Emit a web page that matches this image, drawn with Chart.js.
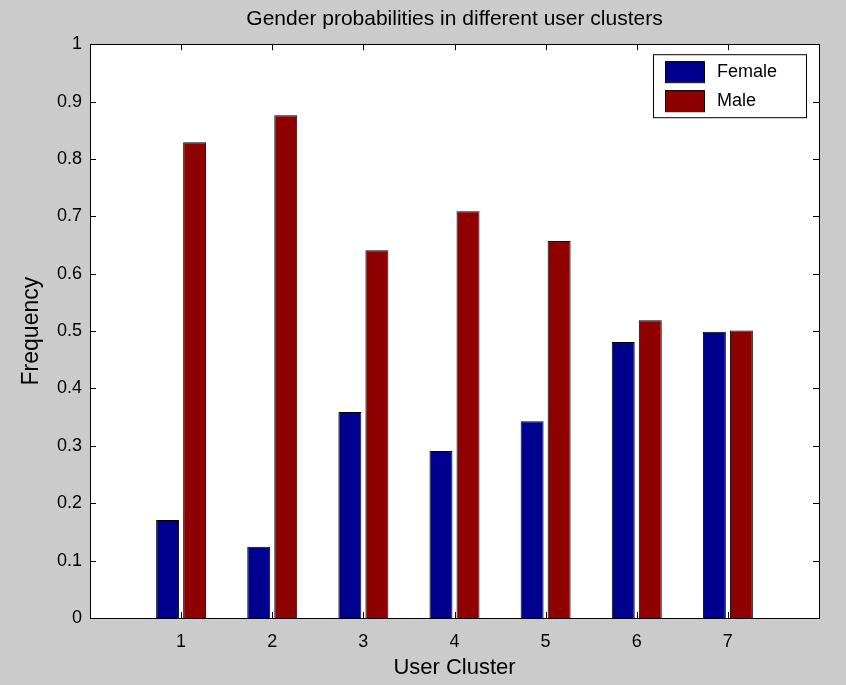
<!DOCTYPE html>
<html>
<head>
<meta charset="utf-8">
<script src="https://cdn.jsdelivr.net/npm/chart.js@4"></script>
<style>
  html, body { margin: 0; padding: 0; background: #cbcbcb; }
  #wrap { width: 846px; height: 685px; }
</style>
</head>
<body>
<div id="wrap"><canvas id="genderChart"></canvas></div>
<script>
// values
const clusters = ['1', '2', '3', '4', '5', '6', '7'];
const female = [0.171, 0.124, 0.359, 0.291, 0.343, 0.481, 0.499];
const male = [0.829, 0.876, 0.641, 0.709, 0.657, 0.519, 0.501];
const yTicks = [0, 0.1, 0.2, 0.3, 0.4, 0.5, 0.6, 0.7, 0.8, 0.9, 1];

// axis runs 0..8, empty slots at both ends
const labels = ['', ...clusters, ''];

const FONT = "'Liberation Sans', Arial, sans-serif";

// gray figure, white axes, box and inward ticks like matlab
const matlabAxes = {
    id: 'matlabAxes',
    beforeDraw(chart) {
        const { ctx, chartArea: a } = chart;
        ctx.save();
        ctx.fillStyle = '#cbcbcb';
        ctx.fillRect(0, 0, chart.width, chart.height);
        ctx.fillStyle = '#ffffff';
        ctx.fillRect(a.left, a.top, a.right - a.left, a.bottom - a.top);
        ctx.restore();
    },
    afterDatasetsDraw(chart) {
        const { ctx, chartArea: a, scales } = chart;
        ctx.save();
        ctx.strokeStyle = '#000';
        ctx.lineWidth = 1;
        ctx.beginPath();
        clusters.forEach((c, i) => {
            const x = Math.round(scales.x.getPixelForValue(i + 1)) + 0.5;
            ctx.moveTo(x, a.bottom); ctx.lineTo(x, a.bottom - 6);
            ctx.moveTo(x, a.top); ctx.lineTo(x, a.top + 6);
        });
        yTicks.forEach(v => {
            const y = Math.round(scales.y.getPixelForValue(v)) + 0.5;
            ctx.moveTo(a.left, y); ctx.lineTo(a.left + 6, y);
            ctx.moveTo(a.right, y); ctx.lineTo(a.right - 6, y);
        });
        ctx.stroke();
        ctx.strokeRect(Math.round(a.left) + 0.5, Math.round(a.top) + 0.5,
            Math.round(a.right - a.left), Math.round(a.bottom - a.top));

        // legend box in the top right corner
        const bx = a.right - 166, by = a.top + 10, bw = 153, bh = 63;
        ctx.fillStyle = '#fff';
        ctx.fillRect(bx, by, bw, bh);
        ctx.strokeRect(bx + 0.5, by + 0.5, bw, bh);
        ctx.font = '18px ' + FONT;
        ctx.textBaseline = 'middle';
        chart.data.datasets.forEach((ds, i) => {
            const sy = by + 7 + i * 29;
            ctx.fillStyle = ds.backgroundColor;
            ctx.fillRect(bx + 12, sy, 39, 21);
            ctx.strokeRect(bx + 12.5, sy + 0.5, 39, 21);
            ctx.fillStyle = '#000';
            ctx.fillText(ds.label, bx + 64, sy + 11);
        });
        ctx.restore();
    }
};

new Chart(document.getElementById('genderChart'), {
    type: 'bar',
    data: {
        labels: labels,
        datasets: [
            {
                label: 'Female',
                data: [null, ...female, null],
                backgroundColor: '#00008f',
                borderColor: '#000',
                borderWidth: 1,
            },
            {
                label: 'Male',
                data: [null, ...male, null],
                backgroundColor: '#8f0000',
                borderColor: '#000',
                borderWidth: 1,
            },
        ],
    },
    options: {
        responsive: true,
        maintainAspectRatio: false,
        animation: false,
        categoryPercentage: 0.593,
        barPercentage: 0.85,
        layout: { padding: { left: 0, right: 27, top: 0, bottom: 0 } },
        plugins: {
            legend: { display: false },
            tooltip: { enabled: false },
            title: {
                display: true,
                fullSize: false,
                text: 'Gender probabilities in different user clusters',
                color: '#000',
                font: { family: FONT, size: 21, weight: 'normal' },
                padding: { top: 7, bottom: 12 },
            },
        },
        scales: {
            x: {
                offset: false,
                grid: { display: false },
                border: { display: false },
                ticks: {
                    color: '#000',
                    font: { family: FONT, size: 18 },
                    padding: 5,
                    maxRotation: 0,
                    autoSkip: false,
                },
                title: {
                    display: true,
                    text: 'User Cluster',
                    color: '#000',
                    font: { family: FONT, size: 22 },
                    padding: { top: 2 },
                },
                afterFit(scale) { scale.height = 67; },
            },
            y: {
                min: 0,
                max: 1,
                grid: { display: false },
                border: { display: false },
                afterBuildTicks(scale) { scale.ticks = yTicks.map(v => ({ value: v })); },
                ticks: {
                    color: '#000',
                    font: { family: FONT, size: 18 },
                    padding: 0,
                    callback: v => String(Math.round(v * 10) / 10),
                },
                title: {
                    display: true,
                    text: 'Frequency',
                    color: '#000',
                    font: { family: FONT, size: 23 },
                    padding: { top: 18, bottom: 0 },
                },
                afterFit(scale) { scale.width = 90; },
            },
        },
    },
    plugins: [matlabAxes],
});
</script>
</body>
</html>
